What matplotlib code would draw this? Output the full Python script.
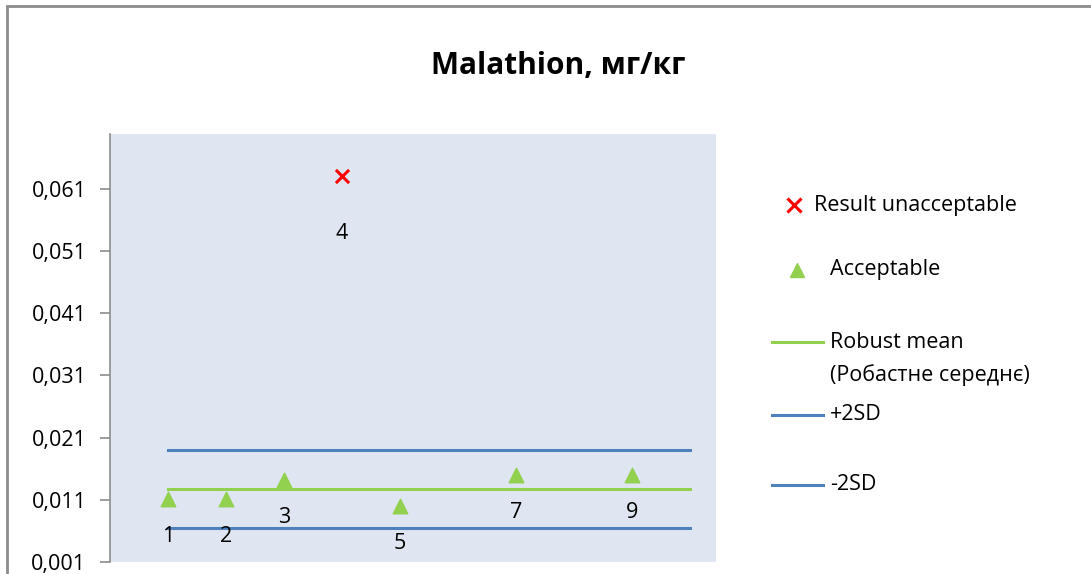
import matplotlib.pyplot as plt
from matplotlib.lines import Line2D
from matplotlib.patches import Rectangle
from matplotlib.ticker import FuncFormatter

plt.rcParams['font.family'] = ['Open Sans', 'DejaVu Sans']

# participant results
lab_ok = [1, 2, 3, 5, 7, 9]
val_ok = [0.01105, 0.01105, 0.01411, 0.00995, 0.01505, 0.01505]
lab_bad = [4]
val_bad = [0.0631]

# reference lines
line_x = [1, 10]
robust_mean = 0.01278
plus_2sd = 0.01905
minus_2sd = 0.00641

yticks = [0.001, 0.011, 0.021, 0.031, 0.041, 0.051, 0.061]

green = '#92D050'
blue = '#4F81BD'
red = '#FF0000'
fs = 15.5
W, H = 1091, 574

fig = plt.figure(figsize=(10.91, 5.74), dpi=100)
ax = fig.add_axes([0.1008, 0.0209, 0.5555, 0.7457])
ax.set_facecolor('#DFE6F1')

ax.plot(line_x, [robust_mean] * 2, color=green, lw=2.2)
ax.plot(line_x, [plus_2sd] * 2, color=blue, lw=2.2)
ax.plot(line_x, [minus_2sd] * 2, color=blue, lw=2.2)

ax.scatter(lab_ok, val_ok, marker='^', s=110, color=green, zorder=3)
ax.scatter(lab_bad, val_bad, marker='x', s=90, color=red, linewidths=2.2, zorder=3)

for x, y in zip(lab_ok, val_ok):
    ax.annotate(str(x), (x, y), xytext=(0, -27), textcoords='offset points',
                ha='center', va='center', fontsize=fs)
for x, y in zip(lab_bad, val_bad):
    ax.annotate(str(x), (x, y), xytext=(0, -42), textcoords='offset points',
                ha='center', va='center', fontsize=fs)

ax.set_xlim(0, 10.45)
ax.set_ylim(0.001, 0.0698)
ax.set_xticks([])
ax.set_yticks(yticks)
ax.yaxis.set_major_formatter(FuncFormatter(lambda v, p: f'{v:.3f}'.replace('.', ',')))
ax.tick_params(axis='y', direction='out', length=7, width=1.2, color='#8C8C8C',
               labelsize=fs, pad=10)
for s in ['top', 'right', 'bottom']:
    ax.spines[s].set_visible(False)
ax.spines['left'].set_color('#8C8C8C')
ax.spines['left'].set_linewidth(1.2)

fig.text(558 / W, 1 - 66 / H, 'Malathion, мг/кг', ha='center', va='center',
         fontsize=21.5, fontweight='bold')


# legend drawn by hand, Excel style (handle aligned with first text line)
def px(x, y):
    return x / W, 1 - y / H


fig.add_artist(Line2D(*zip(px(794, 205)), marker='x', color=red, ms=10, mew=2.2,
                      ls='none', transform=fig.transFigure))
fig.text(*px(814, 205), 'Result unacceptable', va='center', fontsize=fs)
fig.add_artist(Line2D(*zip(px(797, 270)), marker='^', color=green, ms=10,
                      ls='none', transform=fig.transFigure))
fig.text(*px(830, 270), 'Acceptable', va='center', fontsize=fs)
for y, col, txt in [(342, green, 'Robust mean'), (415, blue, '+2SD'), (485, blue, '-2SD')]:
    x0, y0 = px(772, y)
    x1, _ = px(823, y)
    fig.add_artist(Line2D([x0, x1], [y0, y0], color=col, lw=2.2, transform=fig.transFigure))
    fig.text(*px(830, y), txt, va='center', fontsize=fs)
fig.text(*px(830, 375), '(Робастне середнє)', va='center', fontsize=fs)

# chart area border
fig.add_artist(Rectangle((7 / W, -0.1), 1.2, 1 - 6 / H + 0.1, transform=fig.transFigure,
                         fill=False, edgecolor='#8C8C8C', lw=2))

fig.savefig('out.png', dpi=100)
